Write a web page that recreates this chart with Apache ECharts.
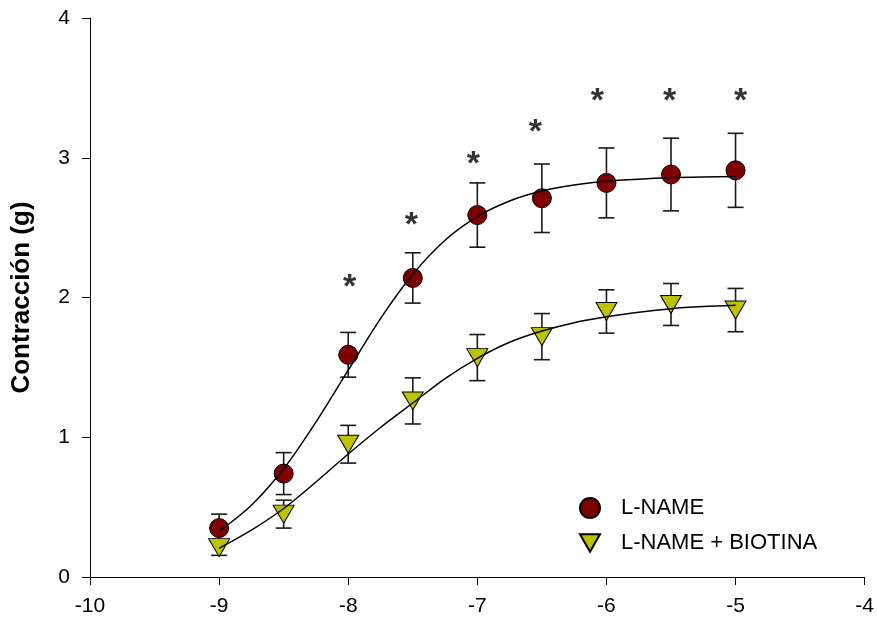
<!DOCTYPE html>
<html>
<head>
<meta charset="utf-8">
<title>Contracción</title>
<script src="https://cdn.jsdelivr.net/npm/echarts@6/dist/echarts.min.js"></script>
<style>
	html, body { margin: 0; padding: 0; background: #fff; }
	#main { width: 877px; height: 619px; }
</style>
</head>
<body>
<div id="main"></div>
<script>
	// log [agonista] (M)
	const dosis = [-9, -8.5, -8, -7.5, -7, -6.5, -6, -5.5, -5];

	// L-NAME
	const lname = [0.35, 0.74, 1.59, 2.14, 2.59, 2.71, 2.82, 2.88, 2.91];
	const lnameErr = [0.10, 0.15, 0.16, 0.18, 0.23, 0.245, 0.25, 0.26, 0.265];

	// L-NAME + BIOTINA
	const biotina = [0.21, 0.45, 0.95, 1.26, 1.57, 1.72, 1.90, 1.95, 1.91];
	const biotinaErr = [0.055, 0.10, 0.135, 0.165, 0.165, 0.165, 0.155, 0.15, 0.155];

	// curvas ajustadas
	const curvaX = [-9, -8.75, -8.5, -8.25, -8, -7.75, -7.5, -7.25, -7, -6.75, -6.5, -6.25, -6, -5.75, -5.5, -5.25, -5];
	const curvaLname = [0.326, 0.513, 0.774, 1.108, 1.48, 1.849, 2.166, 2.41, 2.579, 2.691, 2.762, 2.805, 2.832, 2.847, 2.857, 2.862, 2.865];
	const curvaBiotina = [0.205, 0.335, 0.49, 0.68, 0.88, 1.07, 1.245, 1.42, 1.565, 1.68, 1.76, 1.82, 1.862, 1.895, 1.92, 1.935, 1.945];

	// asteriscos (p < 0.05)
	const astX = [-7.99, -7.51, -7.03, -6.55, -6.07, -5.51, -4.96];
	const astY = [2.125, 2.57, 3.01, 3.234, 3.456, 3.456, 3.456];

	const zip = (a, b) => a.map((v, i) => [v, b[i]]);
	const barras = (y, e) => dosis.map((x, i) => [x, y[i] - e[i], y[i] + e[i]]);

	const fuente = '"Liberation Sans", Arial, sans-serif';

	// barras de error con tope
	function errorBar(params, api) {
		let top = api.coord([api.value(0), api.value(2)]);
		let bot = api.coord([api.value(0), api.value(1)]);
		let w = 8;
		let style = { stroke: '#1a1a1a', lineWidth: 1.6 };
		return {
			type: 'group',
			children: [
				{ type: 'line', shape: { x1: top[0], y1: top[1], x2: bot[0], y2: bot[1] }, style: style },
				{ type: 'line', shape: { x1: top[0] - w, y1: top[1], x2: top[0] + w, y2: top[1] }, style: style },
				{ type: 'line', shape: { x1: bot[0] - w, y1: bot[1], x2: bot[0] + w, y2: bot[1] }, style: style }
			]
		};
	}

	let chart = echarts.init(document.getElementById('main'));
	let option = {
		animation: false,
		textStyle: { fontFamily: fuente },
		grid: { left: 90, right: 12, top: 18, bottom: 42 },
		legend: {
			data: [
				{ name: 'L-NAME', icon: 'circle' },
				{ name: 'L-NAME + BIOTINA', icon: 'path://M0,0 L22,0 L11,19 Z' }
			],
			orient: 'vertical',
			left: 574,
			top: 492,
			itemWidth: 20,
			itemHeight: 20,
			itemGap: 13,
			textStyle: { fontSize: 22, color: '#000', fontFamily: fuente, padding: [0, 0, 0, 16] }
		},
		xAxis: {
			type: 'value',
			min: -10,
			max: -4,
			interval: 1,
			splitLine: { show: false },
			axisLine: { show: true, onZero: false, lineStyle: { color: '#000', width: 1 } },
			axisTick: { show: true, length: 8, lineStyle: { color: '#000' } },
			axisLabel: { fontSize: 21, color: '#000', margin: 19, fontFamily: fuente }
		},
		yAxis: {
			type: 'value',
			min: 0,
			max: 4,
			interval: 1,
			name: 'Contracción (g)',
			nameLocation: 'middle',
			nameGap: 55,
			nameRotate: 90,
			nameTextStyle: { fontSize: 26, fontWeight: 'bold', color: '#000', fontFamily: fuente },
			splitLine: { show: false },
			axisLine: { show: true, lineStyle: { color: '#000', width: 1 } },
			axisTick: { show: true, length: 8, lineStyle: { color: '#000' } },
			axisLabel: { fontSize: 21, color: '#000', margin: 20, fontFamily: fuente }
		},
		series: [
			{
				type: 'custom',
				renderItem: errorBar,
				data: barras(lname, lnameErr),
				z: 1
			},
			{
				type: 'custom',
				renderItem: errorBar,
				data: barras(biotina, biotinaErr),
				z: 1
			},
			{
				name: 'L-NAME',
				type: 'scatter',
				data: zip(dosis, lname),
				symbol: 'circle',
				symbolSize: 19,
				itemStyle: { color: '#7f0000', borderColor: '#000', borderWidth: 1, opacity: 1 },
				z: 2
			},
			{
				name: 'L-NAME + BIOTINA',
				type: 'scatter',
				data: zip(dosis, biotina),
				symbol: 'triangle',
				symbolRotate: 180,
				symbolSize: [21, 18],
				itemStyle: { color: '#bcc200', borderColor: '#000', borderWidth: 1, opacity: 1 },
				z: 2
			},
			{
				type: 'line',
				data: zip(curvaX, curvaLname),
				smooth: 0.3,
				showSymbol: false,
				lineStyle: { color: '#000', width: 1.5 },
				z: 3
			},
			{
				type: 'line',
				data: zip(curvaX, curvaBiotina),
				smooth: 0.3,
				showSymbol: false,
				lineStyle: { color: '#000', width: 1.5 },
				z: 3
			},
			{
				type: 'scatter',
				data: zip(astX, astY),
				symbolSize: 0,
				label: {
					show: true,
					position: 'inside',
					formatter: '*',
					fontSize: 34,
					fontWeight: 'bold',
					color: '#000',
					fontFamily: fuente,
					offset: [0, 8]
				},
				z: 4
			}
		]
	};
	chart.setOption(option);
</script>
</body>
</html>
